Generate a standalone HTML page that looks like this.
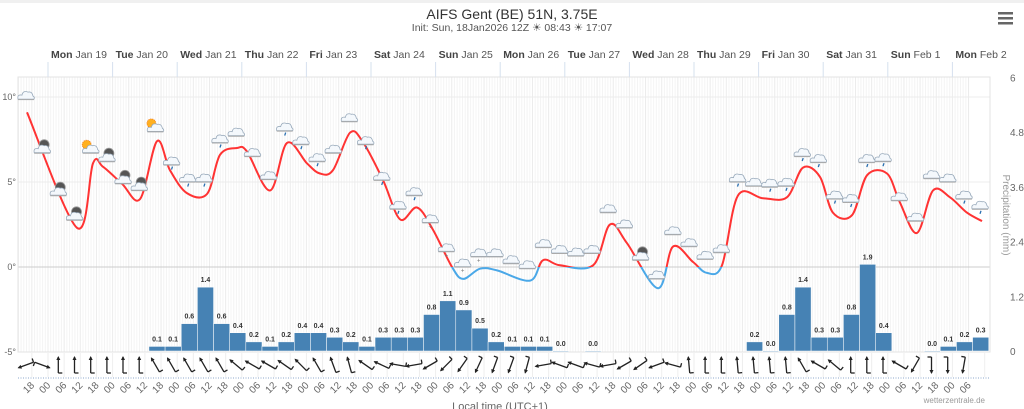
<!DOCTYPE html>
<html><head><meta charset="utf-8"><style>
html,body{margin:0;padding:0;background:#fff;}
svg{display:block;font-family:"Liberation Sans","DejaVu Sans",sans-serif;}
</style></head><body>
<svg id="chart" width="1024" height="409" viewBox="0 0 1024 409">
<rect x="0" y="0" width="1024" height="409" fill="#fff"/>
<rect x="0" y="0" width="1024" height="3" fill="#f0f0f0"/>
<text x="512" y="19" text-anchor="middle" font-size="14" fill="#333">AIFS Gent (BE) 51N, 3.75E</text>
<text x="512" y="31" text-anchor="middle" font-size="10.5" fill="#555">Init: Sun, 18Jan2026 12Z ☀ 08:43 ☀ 17:07</text>
<g fill="#666">
<rect x="998" y="12" width="15" height="2.5"/><rect x="998" y="17" width="15" height="2.5"/><rect x="998" y="22" width="15" height="2.5"/>
</g>
<g id="grid"></g>
<rect x="18" y="77" width="972" height="275" fill="none" stroke="#e3e3e3"/>
<g id="days"></g>
<g id="axes"></g>
<g id="bars"></g>
<g id="temp"></g>
<g id="icons"></g>
<g id="wind"></g>
<g id="xlabels"></g>
<text x="500" y="410" text-anchor="middle" font-size="11" fill="#666">Local time (UTC+1)</text>
<text x="985" y="403" text-anchor="end" font-size="8" fill="#999">wetterzentrale.de</text>
<text transform="translate(1003,215) rotate(90)" text-anchor="middle" font-size="10" fill="#999">Precipitation (mm)</text>
</svg>
<script>
// ---- data ----
const dayNames = ["Mon","Tue","Wed","Thu","Fri","Sat","Sun","Mon","Tue","Wed","Thu","Fri","Sat","Sun","Mon"];
const dayDates = ["Jan 19","Jan 20","Jan 21","Jan 22","Jan 23","Jan 24","Jan 25","Jan 26","Jan 27","Jan 28","Jan 29","Jan 30","Jan 31","Feb 1","Feb 2"];
const tempTicks = [10,5,0,-5];
const precipTicks = [0,1.2,2.4,3.6,4.8,6];
const tempHours = [-7.8,10.8,16.7,20.4,27.5,34.2,40.5,45.3,51.6,59.1,63.9,70.2,73.9,82.5,88.8,96.2,101,105.9,112.2,117,124.5,130.8,137.1,143,150.1,154.2,160.5,166.8,179.1,183.9,190.2,202.5,208.8,215.1,226.6,232.2,239.6,244.8,250.4,256.3,265.6,274.5,280.5,286.8,291.6,298.7,304.3,311.7,316.5,322.8,328.8,335.1,341.4,347];
const tempValues = [9.1,2.3,6.1,5.9,4.9,4.0,7.4,5.7,4.35,4.3,6.6,7.0,6.8,4.5,7.3,6.1,5.5,5.7,7.9,7.35,5.1,2.8,3.5,2.2,0,-0.7,-0.1,-0.2,-0.8,0.4,0.1,0.1,2.5,1.4,-1.25,1.2,0.3,-0.35,0.1,4.2,4.05,4.1,5.85,5.3,3.2,3.05,5.4,5.5,3.8,2.0,4.5,4.1,3.2,2.7];
const precipStartHour = 37.5;
const precipValues = [0.1,0.1,0.6,1.4,0.6,0.4,0.2,0.1,0.2,0.4,0.4,0.3,0.2,0.1,0.3,0.3,0.3,0.8,1.1,0.9,0.5,0.2,0.1,0.1,0.1,0.0,null,0.0,null,null,null,null,null,null,null,null,null,0.2,0.0,0.8,1.4,0.3,0.3,0.8,1.9,0.4,null,null,0.0,0.1,0.2,0.3];
const iconTypes = "cmmmsmmmsrrrrcccrrrccrrrrnnnncccccccccmcccccrcrrrrrrrrccccrr".split("");
const iconLevels = [10.05,6.9,4.4,2.95,6.9,6.4,5.1,4.7,8.15,6.2,5.2,5.2,7.5,7.9,6.7,5.35,8.2,7.4,6.4,6.9,8.75,7.4,5.3,3.6,4.4,2.8,1.1,0.2,0.8,0.8,0.4,0.1,1.35,1.0,0.85,1.0,3.4,2.5,0.6,-0.5,2.1,1.4,0.65,1.05,5.2,4.95,4.9,4.95,6.7,6.35,4.2,4.0,6.35,6.4,4.1,2.9,5.4,5.2,4.2,3.6];
const windDir = [250,110,0,0,0,0,0,0,330,330,330,330,330,310,300,300,305,315,330,340,345,305,295,280,260,240,225,215,205,200,200,195,260,290,290,285,260,240,235,250,285,355,0,0,355,355,355,355,330,300,310,0,0,0,300,210,180,180,190];
const tickLabels = ["18","00","06","12"];

// ---- scales ----
const NS="http://www.w3.org/2000/svg";
const PX_H = 64.6/24;
function xT(h){return 48 + h*PX_H;}
function yT(t){return 267 - t*17;}
function yP(v){return 351 - v*45.6;}
function mk(tag,attrs,parent){const e=document.createElementNS(NS,tag);for(const k in attrs)e.setAttribute(k,attrs[k]);parent.appendChild(e);return e;}

// grid
const grid=document.getElementById('grid');
for(let h=-30;h<=342;h++){const x=xT(h);if(x<18||x>990)continue;
 const l=mk('line',{x1:x,x2:x,y1:77,y2:352,stroke:(h%6===0)?'#ececec':'#f4f4f4','stroke-width':1},grid);
 
 }
tempTicks.forEach(t=>{const y=yT(t);
 const l=mk('line',{x1:18,x2:990,y1:y,y2:y,stroke:t===0?'#ccc':'#ececec'},grid);
 
 });

// days
const days=document.getElementById('days');
dayNames.forEach((d,i)=>{const x=xT(i*24);
 const l=mk('line',{x1:x,x2:x,y1:62,y2:77,stroke:'#d6e0ee'},days);
 
 
 const t=mk('text',{x:x+3,y:58,'font-size':10.5,fill:'#555'},days);
 
 
 const b=mk('tspan',{'font-weight':'bold',fill:'#444'},t);b.textContent=d;
 const s=mk('tspan',{},t);s.textContent=' '+dayDates[i];});

// axes labels
const axes=document.getElementById('axes');
tempTicks.forEach(t=>{const e=mk('text',{x:16,y:yT(t)+3,'text-anchor':'end','font-size':9,fill:'#666'},axes);
 e.textContent=t+'°';
 
 });
precipTicks.forEach(v=>{const e=mk('text',{x:1010,y:yP(v)+4,'font-size':10,fill:'#666'},axes);
 e.textContent=String(v);
 
 });

// bars
const bars=document.getElementById('bars');
precipValues.forEach((v,i)=>{if(v===null)return;
 const x0=xT(precipStartHour+6*i),x1=xT(precipStartHour+6*i+6),y=yP(v);
 const r=mk('rect',{x:x0,y:y,width:x1-x0,height:Math.max(351-y,0.8),fill:'#4682b4',stroke:'#fff','stroke-width':0.5},bars);
 
 
 const t=mk('text',{x:(x0+x1)/2,y:y-5,'text-anchor':'middle','font-size':7,'font-weight':'bold',fill:'#333'},bars);
 t.textContent=v.toFixed(1);
 
 });

// temperature line
const tg=document.getElementById('temp');
const pts=tempHours.map((h,i)=>[xT(h),yT(tempValues[i])]);
let d='M'+pts[0][0]+','+pts[0][1];
for(let i=0;i<pts.length-1;i++){const p0=pts[i-1]||pts[i],p1=pts[i],p2=pts[i+1],p3=pts[i+2]||p2;
 const c1=[p1[0]+(p2[0]-p0[0])/6,p1[1]+(p2[1]-p0[1])/6],c2=[p2[0]-(p3[0]-p1[0])/6,p2[1]-(p3[1]-p1[1])/6];
 d+=' C'+c1[0].toFixed(1)+','+c1[1].toFixed(1)+' '+c2[0].toFixed(1)+','+c2[1].toFixed(1)+' '+p2[0].toFixed(1)+','+p2[1].toFixed(1);}
const defs=mk('defs',{},tg);
const ca=mk('clipPath',{id:'above'},defs);mk('rect',{x:0,y:0,width:1024,height:yT(0)},ca);
const cb=mk('clipPath',{id:'below'},defs);mk('rect',{x:0,y:yT(0),width:1024,height:200},cb);
const pr=mk('path',{d:d,fill:'none',stroke:'#ff3333','stroke-width':2,'clip-path':'url(#above)'},tg);


const pb=mk('path',{d:d,fill:'none',stroke:'#4aa8e8','stroke-width':2,'clip-path':'url(#below)'},tg);



// icons
const ig=document.getElementById('icons');
iconTypes.forEach((ty,k)=>{const cx=26+16.17*k,cy=yT(iconLevels[k]);
 const g=mk('g',{transform:'translate('+cx.toFixed(1)+','+cy.toFixed(1)+')'},ig);
 
 
 if(ty==='s'){mk('circle',{cx:-4,cy:-5,r:4.5,fill:'#ffb020',stroke:'#f07010','stroke-width':0.8,'stroke-dasharray':'1 1'},g);}
 if(ty==='m'){mk('circle',{cx:2,cy:-5,r:5,fill:'#555',stroke:'#999','stroke-width':0.8},g);}
 mk('path',{d:'M-8,3 Q-9,-2 -4,-1 Q-3,-6 2,-4 Q6,-5 7,0 Q9,1 8,3 Z',fill:'#f4f8fc',stroke:'#9ab','stroke-width':0.8},g);
 mk('line',{x1:-8,x2:8,y1:3.5,y2:3.5,stroke:'#aaa','stroke-width':1},g);
 if(ty==='r'){mk('line',{x1:1,x2:0,y1:5,y2:8,stroke:'#2a6fb0','stroke-width':1.3},g);}
 if(ty==='n'){mk('text',{x:0,y:9,'text-anchor':'middle','font-size':6,fill:'#777'},g).textContent='+';}
});

// wind
const wg=document.getElementById('wind');
for(let h=-6;h<=348;h+=6){const x=xT(h);
 const l=mk('line',{x1:x,x2:x,y1:353,y2:377,stroke:'#eee'},wg);
 
 }
const dl=mk('line',{x1:18,x2:990,y1:378,y2:378,stroke:'#c5d3e6','stroke-width':2,'stroke-dasharray':'1 1.5'},wg);


windDir.forEach((a,k)=>{const x=26+16.17*k;
 const g=mk('g',{transform:'translate('+x.toFixed(1)+',365) rotate('+a+')'},wg);
 
 
 mk('line',{x1:0,y1:8,x2:0,y2:-8,stroke:'#222','stroke-width':1.3},g);
 mk('path',{d:'M-2,-5 L0,-9 L2,-5 Z',fill:'#222'},g);
 mk('line',{x1:0,y1:8,x2:4,y2:8,stroke:'#222','stroke-width':1.3},g);});

// x labels
const xl=document.getElementById('xlabels');
for(let j=0;j<=58;j++){const x=xT(-6+6*j);
 const t=mk('text',{transform:'translate('+(x+3).toFixed(1)+',386) rotate(-45)','text-anchor':'end','font-size':10,fill:'#666'},xl);
 t.textContent=tickLabels[j%4];
 
 }
</script>
</body></html>
